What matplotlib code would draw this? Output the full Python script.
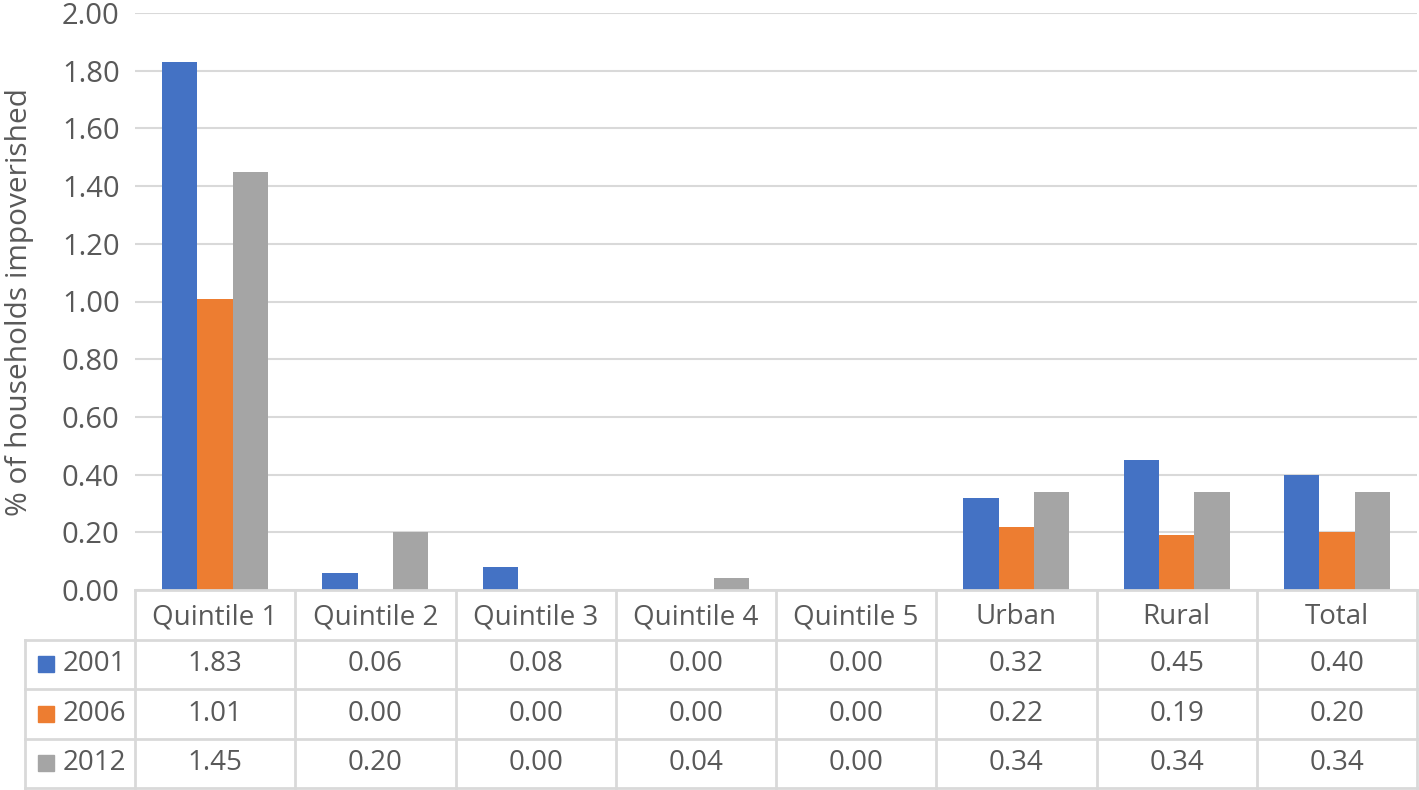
import numpy as np
import matplotlib
matplotlib.use("Agg")
import matplotlib.pyplot as plt

plt.rcParams['font.family'] = ['Open Sans', 'DejaVu Sans']

categories = ['Quintile 1', 'Quintile 2', 'Quintile 3', 'Quintile 4', 'Quintile 5',
              'Urban', 'Rural', 'Total']
years = ['2001', '2006', '2012']
v2001 = [1.83, 0.06, 0.08, 0.00, 0.00, 0.32, 0.45, 0.40]
v2006 = [1.01, 0.00, 0.00, 0.00, 0.00, 0.22, 0.19, 0.20]
v2012 = [1.45, 0.20, 0.00, 0.04, 0.00, 0.34, 0.34, 0.34]
colors = ['#4472C4', '#ED7D31', '#A5A5A5']

txt = '#595959'
grid = '#D9D9D9'
fs = 20
W, H = 1419, 790

fig = plt.figure(figsize=(W / 100, H / 100), dpi=100)
# plot area: x 135..1417 px, y 13..590 px
ax = fig.add_axes([135 / W, (H - 590) / H, (1417 - 135) / W, 577 / H])
x = np.arange(len(categories))
bw = 0.22
for i, vals in enumerate([v2001, v2006, v2012]):
    ax.bar(x + (i - 1) * bw, vals, width=bw, color=colors[i], zorder=3)
ax.set_xlim(-0.5, len(categories) - 0.5)
ax.set_ylim(0, 2.0)
ticks = np.arange(0, 2.01, 0.2)
ax.set_yticks(ticks)
ax.set_yticklabels([f'{t:.2f}' for t in ticks])
ax.yaxis.grid(True, color=grid, lw=1.5, zorder=0)
ax.set_xticks([])
for s in ax.spines.values():
    s.set_visible(False)
ax.tick_params(axis='y', length=0, pad=11, labelsize=21, labelcolor=txt)
ax.set_ylabel('% of households impoverished', fontsize=21.5, color=txt, labelpad=20)

# data table below the axes, same category scale
left_px = 25
u = (1417 - 135) / len(categories)
x0 = -0.5 - (135 - left_px) / u
tab = fig.add_axes([left_px / W, (H - 788) / H, (1417 - left_px) / W, 198 / H])
tab.set_xlim(x0, len(categories) - 0.5)
tab.set_ylim(4, 0)
tab.axis('off')
lc = dict(color=grid, lw=2, clip_on=False)
tab.plot([-0.5, len(categories) - 0.5], [0, 0], **lc)
for r in range(1, 5):
    tab.plot([x0, len(categories) - 0.5], [r, r], **lc)
for c in range(len(categories) + 1):
    tab.plot([c - 0.5, c - 0.5], [0, 4], **lc)
tab.plot([x0, x0], [1, 4], **lc)

for c, name in enumerate(categories):
    tab.text(c, 0.55, name, ha='center', va='center', fontsize=fs, color=txt)
for r, (yr, vals) in enumerate(zip(years, [v2001, v2006, v2012])):
    tab.plot(x0 + 0.13, r + 1.5, marker='s', ms=12, color=colors[r], clip_on=False)
    tab.text(x0 + 0.235, r + 1.5, yr, ha='left', va='center', fontsize=fs, color=txt)
    for c, v in enumerate(vals):
        tab.text(c, r + 1.5, f'{v:.2f}', ha='center', va='center', fontsize=fs, color=txt)

fig.savefig('out.png', dpi=100)
